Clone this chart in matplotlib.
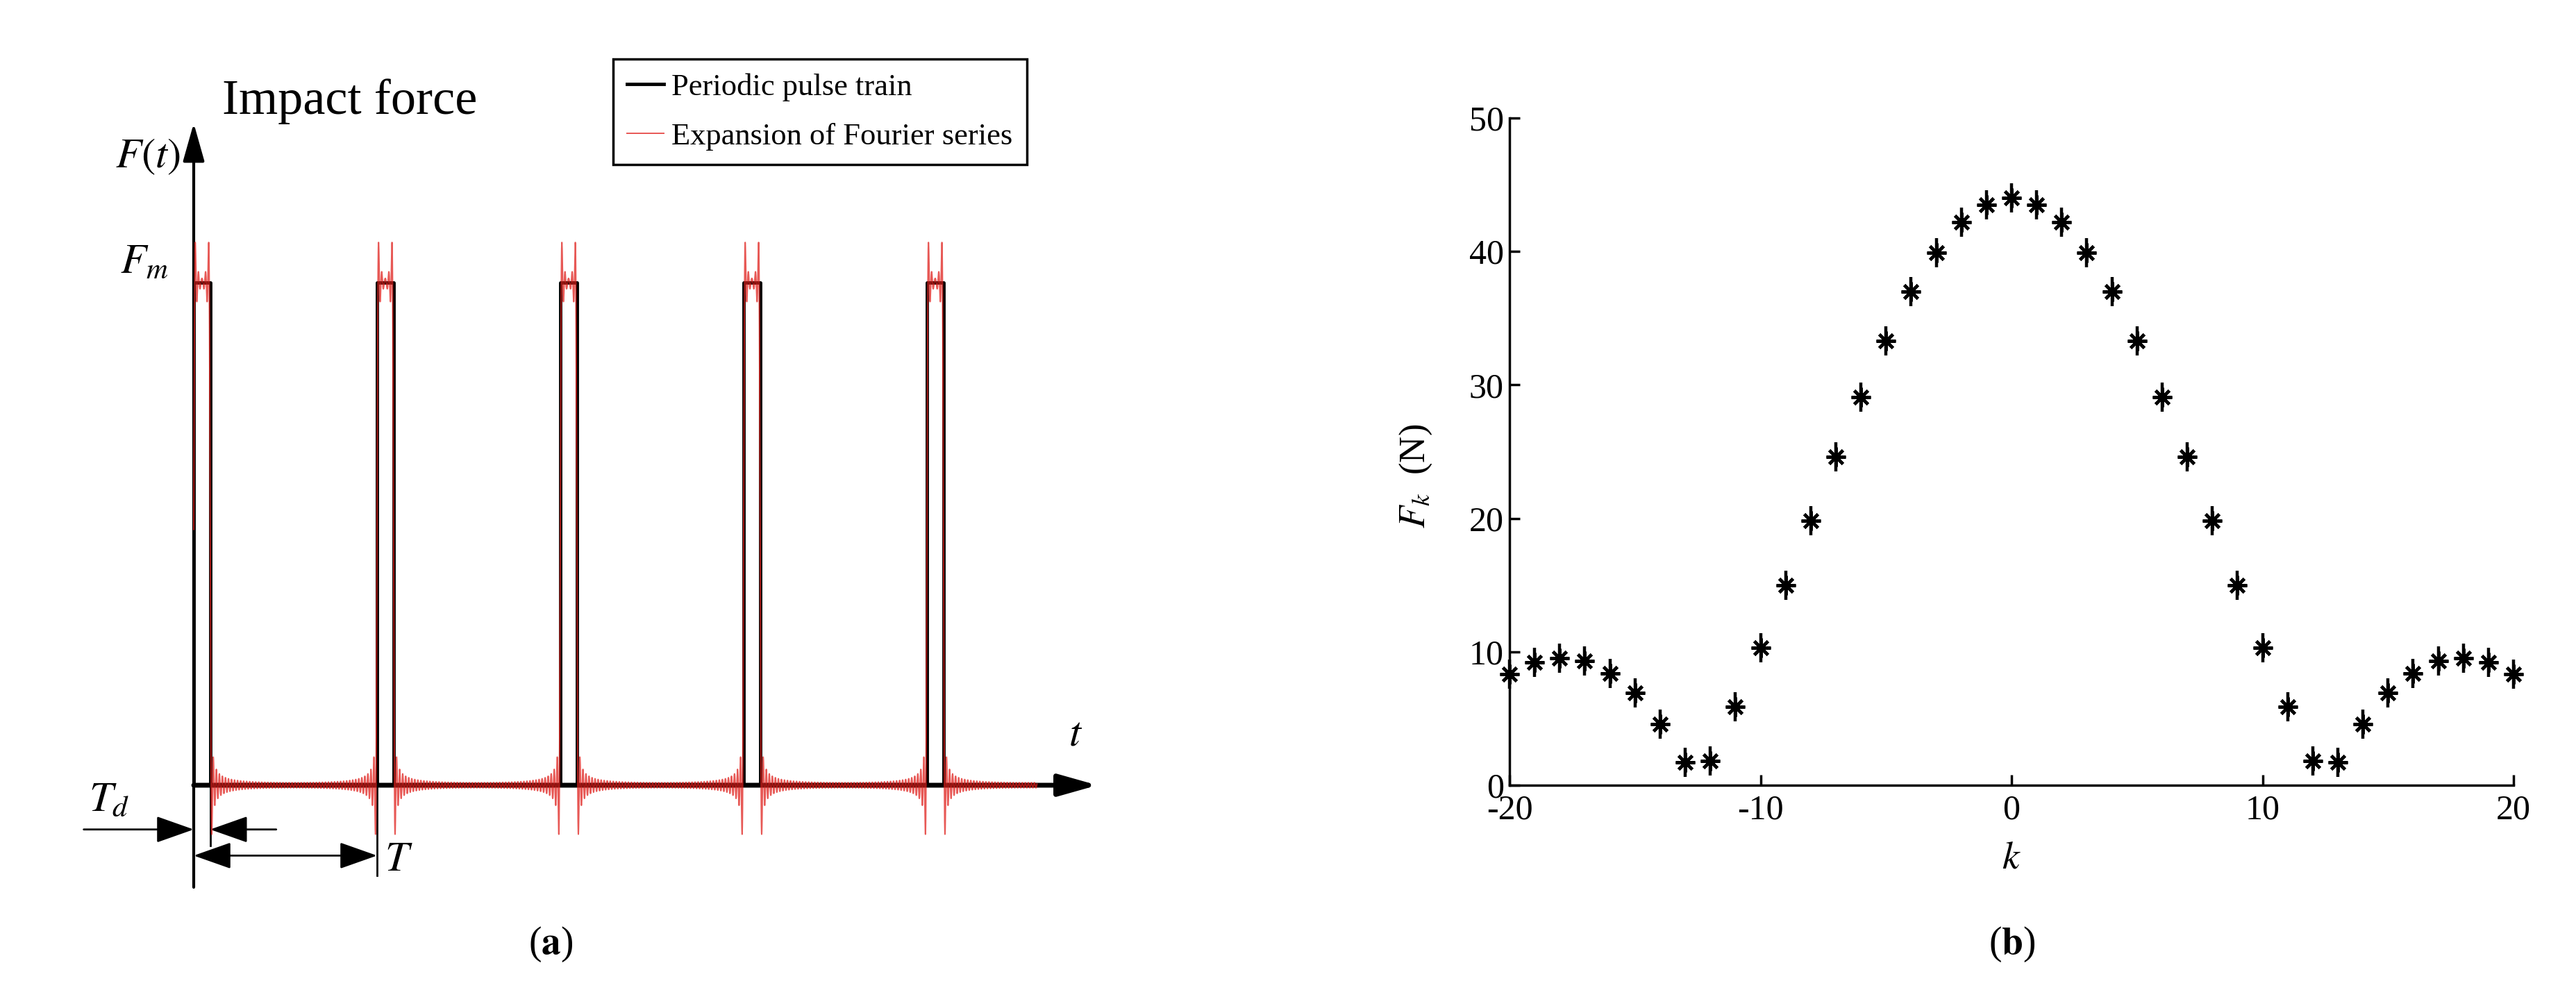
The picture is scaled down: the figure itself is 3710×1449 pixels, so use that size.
import numpy as np
import matplotlib
matplotlib.use('Agg')
import matplotlib.pyplot as plt

plt.rcParams['font.family'] = ['Liberation Serif', 'DejaVu Serif']
plt.rcParams['mathtext.fontset'] = 'stix'
plt.rcParams['axes.unicode_minus'] = False

# (b) Fourier coefficients |F_k|
k = np.arange(-20, 21)
fk = [8.3, 9.2, 9.5, 9.3, 8.4, 6.9, 4.6, 1.7, 1.8, 5.9, 10.3, 15.0, 19.8, 24.6,
      29.1, 33.3, 37.0, 39.9, 42.2, 43.5, 44.0, 43.5, 42.2, 39.9, 37.0, 33.3,
      29.1, 24.6, 19.8, 15.0, 10.3, 5.9, 1.8, 1.7, 4.6, 6.9, 8.4, 9.3, 9.5,
      9.2, 8.3]

# (a) periodic pulse train, time in periods T, force in units of Fm
pulse_start = [0, 1, 2, 3, 4]
pulse_width = 0.09      # Td / T as drawn
pulse_height = 1.0
n_harmonics = 60        # terms kept in the red expansion
t_end = 4.6

fig = plt.figure(figsize=(37.1, 14.49), dpi=100)
W, H = 3710, 1449

# ---------------- (a) ----------------
# data -> pixel: x=0 at 279px, 1 T = 264px ; y=0 at 1131px, Fm = 724px
x0, xT, y0, yF = 279, 264, 1131, 724
xl, xr, yb, yt = -1.05, 5.3, -0.4, 1.45
axa = fig.add_axes([(x0 + xl * xT) / W, (H - (y0 - yb * yF)) / H,
                    (xr - xl) * xT / W, (yt - yb) * yF / H])
axa.set_xlim(xl, xr)
axa.set_ylim(yb, yt)
axa.axis('off')

# black pulse train
xs, ys = [], []
for s in pulse_start:
    xs += [s, s, s + pulse_width, s + pulse_width]
    ys += [0, pulse_height, pulse_height, 0]
xs.append(t_end)
ys.append(0)
l1, = axa.plot(xs, ys, color='black', lw=3.5, zorder=3, label='Periodic pulse train')

# red: truncated Fourier series of the same pulse train
t = np.linspace(0, t_end, 30000)
kk = np.arange(-n_harmonics, n_harmonics + 1)
ck = pulse_height * pulse_width * np.sinc(kk * pulse_width)
tc = pulse_width / 2
series = (ck[:, None] * np.cos(2 * np.pi * kk[:, None] * (t[None, :] - tc))).sum(axis=0)
l2, = axa.plot(t, series, color='#e0201c', lw=1.4, alpha=0.75, zorder=4,
               label='Expansion of Fourier series')

arrow = '-|>,head_length=0.85,head_width=0.24'
dim = '-|>,head_length=0.85,head_width=0.3'
axa.annotate('', xy=(0, 1.317), xytext=(0, -0.203),
             arrowprops=dict(arrowstyle=arrow, lw=3, color='black',
                             mutation_scale=40, shrinkA=0, shrinkB=0), zorder=2)
axa.annotate('', xy=(4.93, 0), xytext=(0, 0),
             arrowprops=dict(arrowstyle=arrow, lw=5, color='black',
                             mutation_scale=40, shrinkA=0, shrinkB=0), zorder=2)
# Td dimension
axa.annotate('', xy=(0, -0.088), xytext=(-0.6, -0.088),
             arrowprops=dict(arrowstyle=dim, lw=2, color='black',
                             mutation_scale=40, shrinkA=0, shrinkB=0))
axa.annotate('', xy=(pulse_width, -0.088), xytext=(0.45, -0.088),
             arrowprops=dict(arrowstyle=dim, lw=2, color='black',
                             mutation_scale=40, shrinkA=0, shrinkB=0))
axa.plot([pulse_width, pulse_width], [0, -0.12], color='black', lw=2)
# T dimension
axa.annotate('', xy=(1, -0.14), xytext=(0, -0.14),
             arrowprops=dict(arrowstyle='<|-|>,head_length=0.85,head_width=0.3',
                             lw=2, color='black', mutation_scale=40,
                             shrinkA=0, shrinkB=0))
axa.plot([1, 1], [0, -0.18], color='black', lw=2)

axa.text(0.85, 1.36, 'Impact force', fontsize=52, ha='center', va='center')
axa.text(-0.25, 1.25, r'$F(t)$', fontsize=44, ha='center', va='center')
axa.text(-0.27, 1.04, r'$F_m$', fontsize=44, ha='center', va='center')
axa.text(-0.46, -0.03, r'$T_d$', fontsize=44, ha='center', va='center')
axa.text(1.12, -0.15, r'$T$', fontsize=44, ha='center', va='center')
axa.text(4.81, 0.1, r'$t$', fontsize=44, ha='center', va='center')

leg = axa.legend(handles=[l1, l2], loc='upper left',
                 bbox_to_anchor=(883 / W, 1 - 85 / H), bbox_transform=fig.transFigure,
                 borderaxespad=0, fontsize=32, frameon=True, fancybox=False,
                 edgecolor='black', framealpha=1, handlelength=1.2,
                 handletextpad=0.25, borderpad=0.45, labelspacing=0.7)
leg.get_frame().set_linewidth(2.5)

# ---------------- (b) ----------------
axb = fig.add_axes([2174 / W, (H - 1131) / H, (3620 - 2174) / W, (1131 - 170) / H])
axb.plot(k, fk, linestyle='none', marker=(8, 2, 0), markersize=20,
         markeredgewidth=3.2, color='black', clip_on=False)
axb.plot(k, fk, linestyle='none', marker='|', markersize=30,
         markeredgewidth=3.2, color='black', clip_on=False)
axb.set_xlim(-20, 20)
axb.set_ylim(0, 50)
axb.set_xticks([-20, -10, 0, 10, 20])
axb.set_yticks([0, 10, 20, 30, 40, 50])
axb.spines['top'].set_visible(False)
axb.spines['right'].set_visible(False)
for s in ['left', 'bottom']:
    axb.spines[s].set_linewidth(2.5)
axb.tick_params(direction='in', length=11, width=2.5, labelsize=36)
axb.tick_params(axis='x', pad=9)
axb.tick_params(axis='y', pad=6)
axb.set_ylabel(r'$F_k$  (N)', fontsize=38, va='center')
axb.yaxis.set_label_coords(-0.093, 0.463)
axb.set_xlabel(r'$k$', fontsize=40, va='center')
axb.xaxis.set_label_coords(0.5, -0.11)

fig.text(793 / W, 1 - 1360 / H, r'($\mathbf{a}$)', fontsize=40, ha='center', va='center')
fig.text(2898 / W, 1 - 1360 / H, r'($\mathbf{b}$)', fontsize=40, ha='center', va='center')

fig.savefig('out.png', dpi=100, facecolor='white')
